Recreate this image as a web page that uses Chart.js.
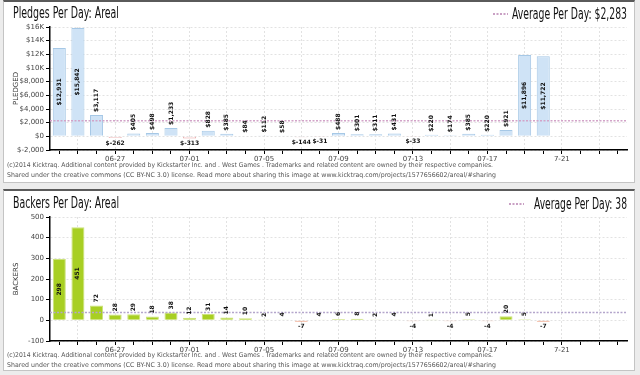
<!DOCTYPE html>
<html><head><meta charset="utf-8">
<script src="https://cdn.jsdelivr.net/npm/chart.js@4"></script>
<style>
html,body{margin:0;padding:0;background:#ececec;width:640px;height:375px;overflow:hidden;}
.panel{position:absolute;left:3px;width:632px;background:#fff;border:1px solid #c4c4c4;border-top:2px solid #5a5a5a;box-sizing:border-box;}
#p1{top:0;height:183px;}
#p2{top:189px;height:182px;}
canvas{position:absolute;left:0;}
#c1{top:0;}
#c2{top:190px;}
#ov{position:absolute;left:0;top:0;pointer-events:none;}
</style></head><body>
<div class="panel" id="p1"></div>
<div class="panel" id="p2"></div>
<canvas id="c1" width="640" height="165"></canvas>
<canvas id="c2" width="640" height="166"></canvas>
<svg id="ov" width="640" height="375" xmlns="http://www.w3.org/2000/svg"></svg>
<script>
// ---- data ----
const dates = ['06-24','06-25','06-26','06-27','06-28','06-29','06-30','07-01','07-02','07-03','07-04','07-05','07-06','07-07','07-08','07-09','07-10','07-11','07-12','07-13','07-14','07-15','07-16','07-17','07-18','07-19','07-20','07-21','07-22','07-23','07-24'];
const xTickLabels = ['06-27','07-01','07-05','07-09','07-13','07-17','7-21'];
const pledges = [12931,15842,3117,-262,405,498,1233,-313,828,385,84,112,58,-144,-31,488,301,311,431,-33,220,174,385,220,921,11896,11722,null,null,null,null];
const backers = [298,451,72,28,29,18,38,12,31,14,10,2,4,-7,4,6,8,2,4,-4,1,-4,5,-4,20,5,-7,null,null,null,null];
const pledgeAvg = 2283;
const backerAvg = 38;
const pledgeTicks = [-2000,0,2000,4000,6000,8000,10000,12000,14000,16000];
const backerTicks = [-100,0,100,200,300,400,500];

const tickFont = {family:'"DejaVu Sans", sans-serif', size:7};

function xLabel(i){
  const d = dates[i];
  const t = xTickLabels.find(l => l === d || ('0'+l) === d);
  return t || '';
}

const barLabels = {
  id:'barLabels',
  afterDatasetsDraw(chart, args, opts){
    const {ctx, chartArea} = chart;
    // average line
    const y = chart.scales.y.getPixelForValue(opts.avg);
    ctx.save();
    ctx.strokeStyle = opts.avgColor;
    ctx.lineWidth = 1.5;
    ctx.setLineDash([2,1.5]);
    ctx.beginPath(); ctx.moveTo(chartArea.left, y); ctx.lineTo(chartArea.right, y); ctx.stroke();
    ctx.restore();
    const meta = chart.getDatasetMeta(0);
    const data = chart.data.datasets[0].data;
    ctx.save();
    ctx.font = 'bold 6px "DejaVu Sans", sans-serif';
    ctx.fillStyle = '#111';
    meta.data.forEach((bar,i)=>{
      const v = data[i];
      if (v == null) return;
      const txt = opts.fmt(v);
      const w = ctx.measureText(txt).width;
      if (v >= 0){
        const h = bar.base - bar.y;
        const cy = (h > w + 8) ? (bar.y + bar.base)/2 : bar.y - 3 - w/2;
        ctx.save();
        ctx.translate(bar.x, cy);
        ctx.rotate(-Math.PI/2);
        ctx.textAlign = 'center'; ctx.textBaseline = 'middle';
        ctx.fillText(txt, 0, 0);
        ctx.restore();
      } else {
        ctx.textAlign = 'center'; ctx.textBaseline = 'top';
        ctx.fillText(txt, bar.x, bar.y + 2);
      }
    });
    ctx.restore();
  }
};

function makeChart(id, values, opt){
  return new Chart(document.getElementById(id), {
    type:'bar',
    data:{labels:dates, datasets:[{
      data:values,
      backgroundColor: values.map(v => v < 0 ? opt.negFill : opt.posFill),
      borderColor: values.map(v => v < 0 ? opt.negBorder : opt.posBorder),
      borderWidth:1,
      categoryPercentage:1,
      barPercentage:0.7
    }]},
    options:{
      responsive:false, animation:false,
      layout:{padding:{left:0,right:13,top:27,bottom:0}},
      plugins:{legend:{display:false}, tooltip:{enabled:false},
        barLabels:{avg:opt.avg, avgColor:opt.avgColor, fmt:opt.fmt}},
      scales:{
        x:{
          offset:true,
          grid:{offset:false, color:c => (c.index % 2 === 1 ? '#e2e2e2' : 'rgba(0,0,0,0)'), tickColor:'#000', tickLength:4, lineWidth:1},
          border:{color:'#000', width:1.5, dash:[2,2]},
          ticks:{autoSkip:false, maxRotation:0, minRotation:0, padding:1, color:'#444', font:tickFont,
            callback:(v,i)=>xLabel(i)},
          afterFit:s=>{s.height = 15;}
        },
        y:{
          min:opt.ticks[0], max:opt.ticks[opt.ticks.length-1],
          afterBuildTicks:s=>{s.ticks = opt.ticks.map(v=>({value:v}));},
          grid:{color:'#e2e2e2', tickColor:'#000', tickLength:4},
          border:{color:'#000', width:1.5, dash:[2,2]},
          ticks:{padding:2, color:'#444', font:tickFont, callback:opt.tickFmt},
          title:{display:true, text:opt.yTitle, color:'#333', font:{family:'"DejaVu Sans", sans-serif', size:7}, padding:{top:12,bottom:0}},
          afterFit:s=>{s.width = 50;}
        }
      }
    },
    plugins:[barLabels]
  });
}

makeChart('c1', pledges, {
  posFill:'#cfe3f6', posBorder:'#a6c8e6', negFill:'#fbe3e3', negBorder:'#e8a4a4',
  avg:pledgeAvg, avgColor:'#d2a3c8', ticks:pledgeTicks, yTitle:'PLEDGED',
  fmt:v => '$' + v.toLocaleString('en-US'),
  tickFmt:v => (v >= 10000 ? '$' + (v/1000) + 'K' : '$' + v.toLocaleString('en-US'))
});
makeChart('c2', backers, {
  posFill:'#a8cf23', posBorder:'#cce27a', negFill:'#e2673c', negBorder:'#f0a282',
  avg:backerAvg, avgColor:'#b4a6cc', ticks:backerTicks, yTitle:'BACKERS',
  fmt:v => String(v),
  tickFmt:v => String(v)
});

// ---- text overlay ----
const NS = 'http://www.w3.org/2000/svg';
const ov = document.getElementById('ov');
function txt(x, y, s, size, len, opts={}){
  const t = document.createElementNS(NS,'text');
  t.setAttribute('x', x); t.setAttribute('y', y);
  t.setAttribute('font-size', size);
  t.setAttribute('font-family', opts.family || '"Liberation Sans Narrow", "DejaVu Sans Condensed", sans-serif');
  t.setAttribute('fill', opts.fill || '#111');
  if (len){ t.setAttribute('textLength', len); t.setAttribute('lengthAdjust','spacingAndGlyphs'); }
  if (opts.anchor) t.setAttribute('text-anchor', opts.anchor);
  t.textContent = s;
  ov.appendChild(t);
  return t;
}
function dash(x1, x2, y, color){
  const l = document.createElementNS(NS,'line');
  l.setAttribute('x1',x1); l.setAttribute('x2',x2); l.setAttribute('y1',y); l.setAttribute('y2',y);
  l.setAttribute('stroke',color); l.setAttribute('stroke-width','2'); l.setAttribute('stroke-dasharray','2 1.5');
  ov.appendChild(l);
}
const foot1 = '(c)2014 Kicktraq. Additional content provided by Kickstarter Inc. and . West Games . Trademarks and related content are owned by their respective companies.';
const foot2 = 'Shared under the creative commons (CC BY-NC 3.0) license. Read more about sharing this image at www.kicktraq.com/projects/1577656602/areal/#sharing';
const ff = {family:'"DejaVu Sans", sans-serif', fill:'#555'};

txt(13, 18, 'Pledges Per Day: Areal', 15, 106);
dash(493, 508, 14, '#c9a0c4');
txt(512, 19, 'Average Per Day: $' + pledgeAvg.toLocaleString('en-US'), 15, 115);
txt(7, 167, foot1, 6.5, 486, ff);
txt(7, 177, foot2, 6.5, 489, ff);

txt(13, 208, 'Backers Per Day: Areal', 15, 106);
dash(509, 524, 204, '#c9a0c4');
txt(534, 209, 'Average Per Day: ' + backerAvg, 15, 93);
txt(7, 357, foot1, 6.5, 486, ff);
txt(7, 367, foot2, 6.5, 489, ff);
</script>
</body></html>
